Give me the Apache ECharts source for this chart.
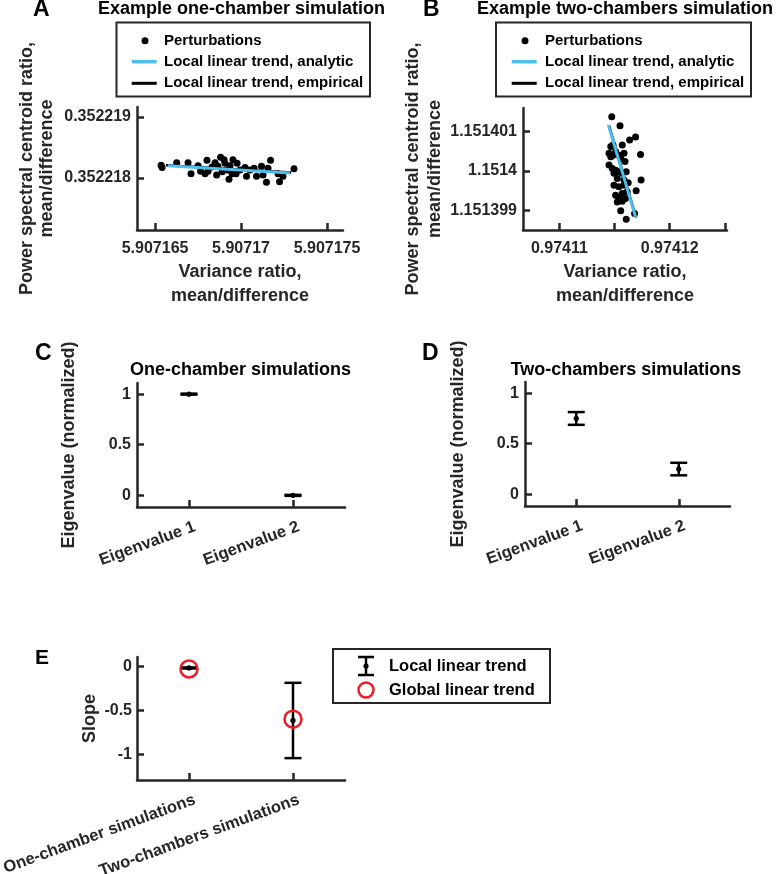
<!DOCTYPE html>
<html><head><meta charset="utf-8">
<script src="https://cdn.jsdelivr.net/npm/echarts@6/dist/echarts.min.js"></script>
<style>html,body{margin:0;padding:0;background:#fff}#c{width:776px;height:874px}</style>
</head><body><div id="c"></div>
<script>
// ---------- Panel A: one-chamber example ----------
const aVarianceRatio = [5.90716535,5.90716541,5.90716626,5.90716692,5.90716709,5.90716765,5.90716802,5.90716808,5.90716849,5.90716881,5.90716866,5.90716858,5.90716907,5.90716919,5.90716930,5.90716948,5.90716977,5.90716971,5.90717023,5.90717032,5.90717076,5.90717090,5.90717119,5.90717128,5.90717172,5.90717148,5.90717224,5.90717215,5.90717308,5.90716831,5.90716890,5.90716936,5.90716994,5.90717052,5.90716750,5.90716953,5.90717157,5.90717244,5.90716791,5.90716901];
const aCentroidRatio = [0.35221821,0.35221817,0.35221825,0.35221825,0.35221807,0.35221811,0.35221829,0.35221811,0.35221825,0.35221834,0.35221819,0.35221805,0.35221824,0.35221813,0.35221798,0.35221807,0.35221824,0.35221807,0.35221817,0.35221803,0.35221816,0.35221803,0.35221819,0.35221805,0.35221829,0.35221793,0.35221794,0.35221807,0.35221815,0.35221818,0.35221810,0.35221820,0.35221813,0.35221813,0.35221820,0.35221830,0.35221816,0.35221803,0.35221807,0.35221830];
const aAnalyticX = [5.90716574, 5.90717285];
const aAnalyticY = [0.35221820, 0.35221808];
const aEmpiricalX = [5.90716564, 5.90717291];
const aEmpiricalY = [0.35221821, 0.35221809];
const aXTicks = [5.907165, 5.90717, 5.907175];
const aXTickLabels = ['5.907165', '5.90717', '5.907175'];
const aYTicks = [0.352218, 0.352219];
const aYTickLabels = ['0.352218', '0.352219'];

// ---------- Panel B: two-chambers example ----------
const bVarianceRatio = [0.97411475,0.9741155,0.97411691,0.97411637,0.97411736,0.97411741,0.97411696,0.97411624,0.97411682,0.97411606,0.97411556,0.9741145,0.97411466,0.97411486,0.9741151,0.9741154,0.97411586,0.97411595,0.9741145,0.9741148,0.9741151,0.9741154,0.97411525,0.9741157,0.97411606,0.97411495,0.9741154,0.97411586,0.9741151,0.9741154,0.9741157,0.974116,0.97411525,0.9741157,0.97411615,0.97411486,0.97411556,0.97411466,0.9741157,0.97411495,0.97411586];
const bCentroidRatio = [1.15140138,1.15140115,1.15140086,1.15140079,1.15140042,1.15139977,1.1513995,1.1513997,1.15139892,1.15139877,1.15139899,1.15140045,1.15140062,1.15140066,1.15140049,1.1514004,1.15140045,1.15140024,1.15140015,1.15140006,1.15140002,1.15139998,1.15139981,1.15139994,1.15139998,1.15139964,1.1513996,1.15139964,1.15139938,1.1513993,1.15139923,1.1513993,1.15139921,1.15139943,1.15139947,1.1514004,1.15140032,1.15140036,1.15140066,1.15139994,1.15139977];
const bAnalyticX = [0.97411444, 0.97411691];
const bAnalyticY = [1.15140117, 1.15139883];
const bEmpiricalX = [0.9741145, 0.97411695];
const bEmpiricalY = [1.15140115, 1.15139882];
const bXTicks = [0.97411, 0.974115, 0.97412, 0.974125];
const bXLabelTicks = [0.97411, 0.97412];
const bXTickLabels = ['0.97411', '0.97412'];
const bYTicks = [1.151399, 1.1514, 1.151401];
const bYTickLabels = ['1.151399', '1.1514', '1.151401'];

// ---------- Panels C, D: eigenvalues ----------
const eigPositions = [1, 2];
const eigCategories = ['Eigenvalue 1', 'Eigenvalue 2'];
const cMean = [1, 0];
const cErr = [0.005, 0.005];
const dMean = [0.75, 0.25];
const dErr = [0.063, 0.062];
const eigYTicks = [0, 0.5, 1];
const eigYTickLabels = ['0', '0.5', '1'];

// ---------- Panel E: slopes ----------
const ePositions = [1, 2];
const eCategories = ['One-chamber simulations', 'Two-chambers simulations'];
const eLocalMean = [-0.015, -0.615];
const eLocalErr = [0.006, 0.43];
const eGlobal = [-0.027, -0.6];
const eYTicks = [-1, -0.5, 0];
const eYTickLabels = ['-1', '-0.5', '0'];

// ---------- styling ----------
const INK = '#262626';
const FF = '"Liberation Sans", Arial, Helvetica, sans-serif';
const CYAN = '#4DBEEE';
const RED = '#EE1C24';

function labelFor(ticks, labels) {
  return function (v) {
    for (let i = 0; i < ticks.length; i++) {
      if (Math.abs(v - ticks[i]) < 1e-9) return labels[i];
    }
    return '';
  };
}
function axis(o) {
  const lab = {
    show: true, customValues: o.labelTicks || o.ticks, formatter: labelFor(o.labelTicks || o.ticks, o.labels),
    color: INK, fontFamily: FF, fontWeight: 'bold', fontSize: o.fontSize || 16,
    margin: o.margin || 7, rotate: o.rotate || 0
  };
  if (o.rotate) { lab.align = 'right'; lab.verticalAlign = 'top'; lab.padding = [0, -3, 0, 0]; }
  return {
    type: 'value', gridIndex: o.grid, min: o.min, max: o.max,
    axisLine: { show: true, onZero: false, lineStyle: { color: INK, width: 2.5 } },
    axisTick: { show: true, inside: true, length: 7, customValues: o.ticks, lineStyle: { color: INK, width: 2.5 } },
    axisLabel: lab,
    splitLine: { show: false },
    name: o.name || '', nameLocation: 'middle', nameGap: o.nameGap || 20,
    nameTextStyle: { color: INK, fontFamily: FF, fontWeight: 'bold', fontSize: 18, lineHeight: o.lineHeight || 20 }
  };
}
function zip(a, b) { return a.map((v, i) => [v, b[i]]); }
function errRender(params, api) {
  const x = api.value(0), m = api.value(1), e = api.value(2);
  const c = api.coord([x, m]), t = api.coord([x, m + e]), b = api.coord([x, m - e]);
  const hw = 8.5, st = { stroke: '#000', lineWidth: 2.5 };
  return {
    type: 'group', children: [
      { type: 'line', shape: { x1: c[0], y1: t[1], x2: c[0], y2: b[1] }, style: st },
      { type: 'line', shape: { x1: c[0] - hw, y1: t[1], x2: c[0] + hw, y2: t[1] }, style: st },
      { type: 'line', shape: { x1: c[0] - hw, y1: b[1], x2: c[0] + hw, y2: b[1] }, style: st },
      { type: 'circle', shape: { cx: c[0], cy: c[1], r: 2.6 }, style: { fill: '#000' } }
    ]
  };
}
function errData(pos, mean, err) { return pos.map((p, i) => [p, mean[i], err[i]]); }

function txt(x, y, text, size, align, color) {
  return {
    type: 'text', x: x, y: y, z: 10,
    style: { text: text, fill: color || '#000', font: 'bold ' + size + 'px ' + FF,
      textAlign: align || 'left', textVerticalAlign: 'middle', align: align || 'left', verticalAlign: 'middle' }
  };
}
function hline(x1, x2, y, color, w) {
  return { type: 'line', z: 10, shape: { x1: x1, y1: y, x2: x2, y2: y }, style: { stroke: color, lineWidth: w } };
}
function box(x, y, w, h) {
  return { type: 'rect', z: 9, shape: { x: x, y: y, width: w, height: h }, style: { fill: '#fff', stroke: INK, lineWidth: 2 } };
}
function dot(cx, cy, r) {
  return { type: 'circle', z: 10, shape: { cx: cx, cy: cy, r: r }, style: { fill: '#000' } };
}

const graphics = [
  // panel letters
  txt(33, 10, 'A', 23), txt(423, 10, 'B', 23), txt(35, 354, 'C', 23), txt(422, 354, 'D', 23), txt(35, 658, 'E', 21),
  // titles
  txt(241.5, 9, 'Example one-chamber simulation', 18, 'center'),
  txt(625, 9, 'Example two-chambers simulation', 18, 'center'),
  txt(240.5, 370, 'One-chamber simulations', 18, 'center'),
  txt(626, 370, 'Two-chambers simulations', 18, 'center'),
  // legend A
  box(116.5, 22.5, 253.5, 74),
  dot(145, 40.7, 3.5), txt(164, 40.7, 'Perturbations', 15),
  hline(131.7, 156.7, 61.7, CYAN, 3.5), txt(164, 61.7, 'Local linear trend, analytic', 15),
  hline(131.7, 156.7, 83.3, '#000', 3), txt(164, 83.3, 'Local linear trend, empirical', 15),
  // legend B
  box(496, 22.5, 255, 74),
  dot(525, 40.7, 3.5), txt(545, 40.7, 'Perturbations', 15),
  hline(511.7, 536.7, 61.7, CYAN, 3.5), txt(545, 61.7, 'Local linear trend, analytic', 15),
  hline(511.7, 536.7, 83.3, '#000', 3), txt(545, 83.3, 'Local linear trend, empirical', 15),
  // legend E
  box(333, 649, 217, 54),
  { type: 'line', z: 10, shape: { x1: 366, y1: 657, x2: 366, y2: 675 }, style: { stroke: '#000', lineWidth: 2.5 } },
  hline(358, 374, 657, '#000', 2.5), hline(358, 374, 675, '#000', 2.5), dot(366, 666, 2.6),
  txt(389, 666, 'Local linear trend', 16.5),
  { type: 'circle', z: 10, shape: { cx: 366, cy: 690, r: 7.5 }, style: { fill: 'none', stroke: RED, lineWidth: 2.5 } },
  txt(389, 690, 'Global linear trend', 16.5)
];

const chart = echarts.init(document.getElementById('c'), null, { renderer: 'canvas' });
chart.setOption({
  animation: false,
  backgroundColor: '#fff',
  textStyle: { fontFamily: FF },
  grid: [
    { left: 137, top: 107, width: 206, height: 123, containLabel: false, outerBoundsMode: 'none' },
    { left: 523, top: 108, width: 204, height: 122, containLabel: false, outerBoundsMode: 'none' },
    { left: 137, top: 383, width: 208, height: 124, containLabel: false, outerBoundsMode: 'none' },
    { left: 525, top: 382, width: 205, height: 124, containLabel: false, outerBoundsMode: 'none' },
    { left: 137, top: 657, width: 208, height: 123, containLabel: false, outerBoundsMode: 'none' }
  ],
  xAxis: [
    axis({ grid: 0, min: 5.90716395, max: 5.90717593, ticks: aXTicks, labels: aXTickLabels, margin: 11,
      name: 'Variance ratio,\nmean/difference', nameGap: 30, lineHeight: 24 }),
    axis({ grid: 1, min: 0.9741067, max: 0.9741252, ticks: bXTicks, labelTicks: bXLabelTicks, labels: bXTickLabels, margin: 11,
      name: 'Variance ratio,\nmean/difference', nameGap: 30, lineHeight: 24 }),
    axis({ grid: 2, min: 0.5, max: 2.5, ticks: eigPositions, labels: eigCategories, rotate: 20, margin: 12.5, fontSize: 16.5 }),
    axis({ grid: 3, min: 0.5, max: 2.5, ticks: eigPositions, labels: eigCategories, rotate: 20, margin: 12.5, fontSize: 16.5 }),
    axis({ grid: 4, min: 0.5, max: 2.5, ticks: ePositions, labels: eCategories, rotate: 20, margin: 12.5, fontSize: 16.5 })
  ],
  yAxis: [
    axis({ grid: 0, min: 0.35221715, max: 0.35221916, ticks: aYTicks, labels: aYTickLabels, margin: 6,
      name: 'Power spectral centroid ratio,\nmean/difference', nameGap: 80, lineHeight: 20 }),
    axis({ grid: 1, min: 1.1513985, max: 1.1514016, ticks: bYTicks, labels: bYTickLabels, margin: 6,
      name: 'Power spectral centroid ratio,\nmean/difference', nameGap: 77, lineHeight: 22 }),
    axis({ grid: 2, min: -0.115, max: 1.11, ticks: eigYTicks, labels: eigYTickLabels, margin: 6,
      name: 'Eigenvalue (normalized)', nameGap: 58 }),
    axis({ grid: 3, min: -0.115, max: 1.11, ticks: eigYTicks, labels: eigYTickLabels, margin: 6,
      name: 'Eigenvalue (normalized)', nameGap: 57 }),
    axis({ grid: 4, min: -1.295, max: 0.11, ticks: eYTicks, labels: eYTickLabels, margin: 5,
      name: 'Slope', nameGap: 33 })
  ],
  series: [
    { type: 'scatter', xAxisIndex: 0, yAxisIndex: 0, data: zip(aVarianceRatio, aCentroidRatio), symbolSize: 7, itemStyle: { color: '#000', opacity: 1 }, z: 2 },
    { type: 'line', xAxisIndex: 0, yAxisIndex: 0, data: zip(aEmpiricalX, aEmpiricalY), showSymbol: false, lineStyle: { color: '#000', width: 2.5 }, z: 3 },
    { type: 'line', xAxisIndex: 0, yAxisIndex: 0, data: zip(aAnalyticX, aAnalyticY), showSymbol: false, lineStyle: { color: CYAN, width: 3 }, z: 4 },
    { type: 'scatter', xAxisIndex: 1, yAxisIndex: 1, data: zip(bVarianceRatio, bCentroidRatio), symbolSize: 7, itemStyle: { color: '#000', opacity: 1 }, z: 2 },
    { type: 'line', xAxisIndex: 1, yAxisIndex: 1, data: zip(bEmpiricalX, bEmpiricalY), showSymbol: false, lineStyle: { color: '#000', width: 2.5 }, z: 3 },
    { type: 'line', xAxisIndex: 1, yAxisIndex: 1, data: zip(bAnalyticX, bAnalyticY), showSymbol: false, lineStyle: { color: CYAN, width: 3 }, z: 4 },
    { type: 'custom', xAxisIndex: 2, yAxisIndex: 2, renderItem: errRender, encode: { x: 0, y: 1 }, data: errData(eigPositions, cMean, cErr), z: 3 },
    { type: 'custom', xAxisIndex: 3, yAxisIndex: 3, renderItem: errRender, encode: { x: 0, y: 1 }, data: errData(eigPositions, dMean, dErr), z: 3 },
    { type: 'custom', xAxisIndex: 4, yAxisIndex: 4, renderItem: errRender, encode: { x: 0, y: 1 }, data: errData(ePositions, eLocalMean, eLocalErr), z: 3 },
    { type: 'scatter', xAxisIndex: 4, yAxisIndex: 4, data: zip(ePositions, eGlobal), symbol: 'circle', symbolSize: 17,
      itemStyle: { color: 'rgba(0,0,0,0)', borderColor: RED, borderWidth: 2.5, opacity: 1 }, z: 4 }
  ],
  graphic: graphics
});
</script></body></html>
